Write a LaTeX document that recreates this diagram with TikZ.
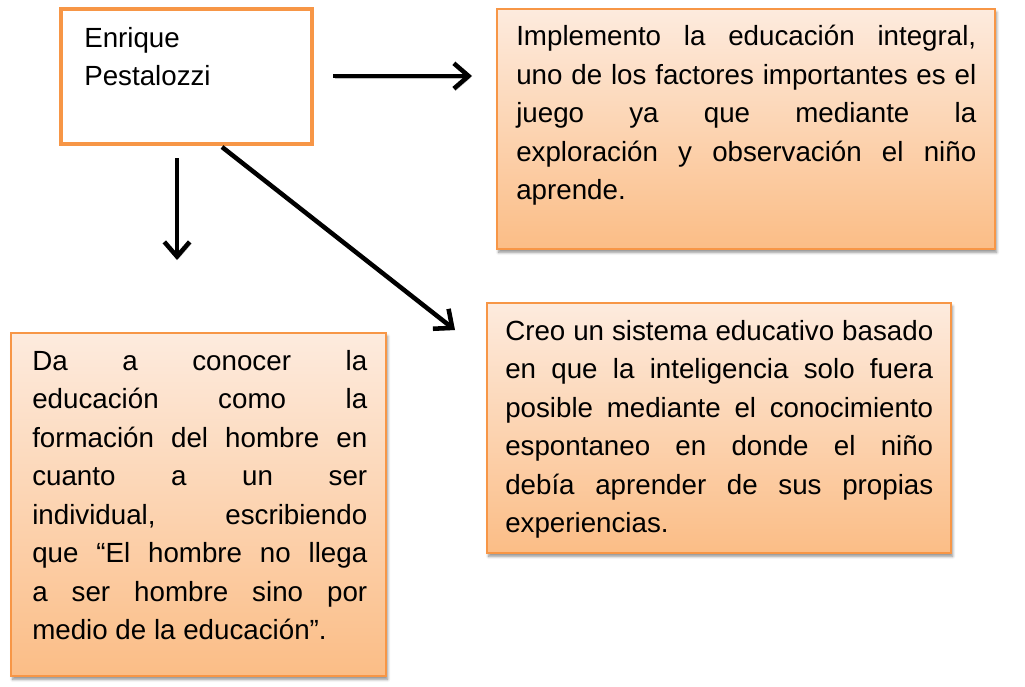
\documentclass[tikz,border=0pt]{standalone}
\usepackage{fontspec}
\setmainfont{Liberation Sans}
\usetikzlibrary{arrows.meta,fit,shadows.blur}
\definecolor{borderor}{HTML}{F79646}
\definecolor{gradtop}{HTML}{FDEBDE}
\definecolor{gradbot}{HTML}{FBBD86}
\hyphenpenalty=10000
\exhyphenpenalty=10000
\tolerance=10000
\hbadness=10000
\begin{document}
\begin{tikzpicture}[x=0.75pt,y=-0.75pt,
  mainbox/.style={draw=borderor,line width=3.2pt,fill=white,inner sep=0pt},
  gradbox/.style={draw=borderor,line width=1.5pt,top color=gradtop,bottom color=gradbot,inner sep=0pt,
    blur shadow={shadow xshift=1.2pt,shadow yshift=-2.5pt,shadow blur steps=6,shadow opacity=45}},
  txt/.style={font=\fontsize{20.8}{28.9}\selectfont,inner sep=0pt,anchor=base west,align=justify},
  arr/.style={line width=3.4pt,-{Straight Barb[length=11pt,width=19pt]},
    preaction={draw=black!25,transform canvas={shift={(1.2pt,-1.5pt)}}}}]
\useasboundingbox (0,0) rectangle (1025,686);
% boxes
\node[mainbox,fit={(61,9) (312,144)}] (A) {};
\node[gradbox,fit={(497,9) (995,249)}] (B) {};
\node[gradbox,fit={(487,303) (951,553)}] (D) {};
\node[gradbox,fit={(11,333) (386,676)}] (C) {};
% texts
\node[txt,text width=200pt,align=left] (At) at (84,47) {Enrique\\Pestalozzi};
\node[txt,text width=345pt] (Bt) at (516,45.5) {Implemento la educación integral,\linebreak uno de los factores importantes es el\linebreak juego ya que mediante la\linebreak exploración y observación el niño\linebreak aprende.};
\node[txt,text width=321pt] (Dt) at (505,340) {Creo un sistema educativo basado\linebreak en que la inteligencia solo fuera\linebreak posible mediante el conocimiento\linebreak espontaneo en donde el niño\linebreak debía aprender de sus propias\linebreak experiencias.};
\node[txt,text width=251.25pt] (Ct) at (32,370) {Da a conocer la\linebreak educación como la\linebreak formación del hombre en\linebreak cuanto a un ser\linebreak individual, escribiendo\linebreak que “El hombre no llega\linebreak a ser hombre sino por\linebreak medio de la educación”.};
% connector ends
\coordinate (r1) at (333,76);
\coordinate (r2) at (472,76);
\coordinate (d1) at (177,158);
\coordinate (d2) at (177,260);
\coordinate (g1) at (222,147);
\coordinate (g2) at (455,330);
\draw[arr] (r1) -- (r2);
\draw[arr] (d1) -- (d2);
\draw[arr] (g1) -- (g2);
\end{tikzpicture}
\end{document}
